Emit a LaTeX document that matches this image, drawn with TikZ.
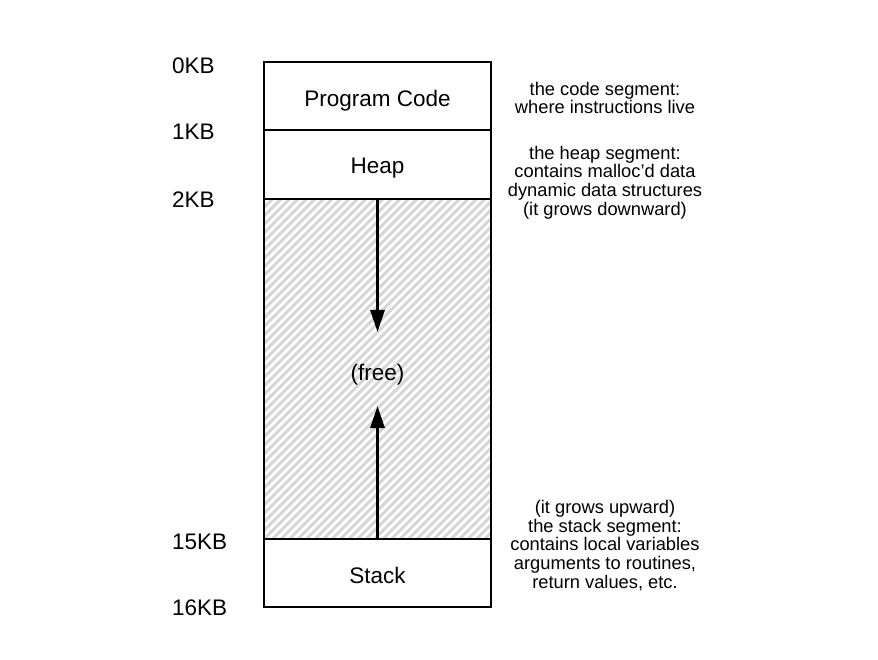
\documentclass[tikz,border=0pt]{standalone}
\usepackage{fontspec}
\setmainfont{Liberation Sans}
\usetikzlibrary{arrows.meta}
\tikzset{
  seg/.style={draw=black, line width=1.6pt, minimum width=227pt, inner sep=0pt},
  seglabel/.style={inner sep=0pt, font=\fontsize{22.5}{27}\selectfont},
  kb/.style={anchor=west, inner sep=0pt, font=\fontsize{22.5}{27}\selectfont},
  note/.style={align=center, inner sep=0pt, font=\fontsize{18.3}{18.8}\selectfont},
  growarrow/.style={line width=3pt, -{Triangle[length=22pt,width=14pt]}},
  hatchline/.style={draw=black!16, line width=3pt}
}
\begin{document}
\begin{tikzpicture}[x=1pt,y=-1pt]
\useasboundingbox (0,0) rectangle (878,660);
% hatch of the free region
\begin{scope}
  \clip (264,199) rectangle (491,539);
  \foreach \i in {0,...,70} {
    \draw[hatchline] ({264-340+\i*8.5},539) -- ++(340,-340);
  }
\end{scope}
\node[seg, minimum height=68pt] (code) at (377.5,96) {};
\node[seg, minimum height=69pt] (heap) at (377.5,164.5) {};
\node[seg, minimum height=340pt] (free) at (377.5,369) {};
\node[seg, minimum height=68pt] (stack) at (377.5,573) {};
\node[seglabel] (codelbl) at (377.5,100.5) {Program Code};
\node[seglabel] (heaplbl) at (377.5,168.5) {Heap};
\node[seglabel] (freelbl) at (377.5,375) {(free)};
\node[seglabel] (stacklbl) at (377.5,575) {Stack};
% growth arrows
\coordinate (downtip) at (377.5,332);
\coordinate (uptip) at (377.5,406);
\draw[growarrow] (heap.south) -- (downtip);
\draw[growarrow] (stack.north) -- (uptip);
% address labels
\node[kb] (k0) at (172,66) {0KB};
\node[kb] (k1) at (172,132) {1KB};
\node[kb] (k2) at (172,200) {2KB};
\node[kb] (k15) at (172,542) {15KB};
\node[kb] (k16) at (172,608) {16KB};
% notes
\node[note] (ncode) at (605,98) {the code segment:\\where instructions live};
\node[note] (nheap) at (605,182.5) {the heap segment:\\contains malloc’d data\\dynamic data structures\\(it grows downward)};
\node[note] (nstack) at (605,545.5) {(it grows upward)\\the stack segment:\\contains local variables\\arguments to routines,\\return values, etc.};
\end{tikzpicture}
\end{document}
